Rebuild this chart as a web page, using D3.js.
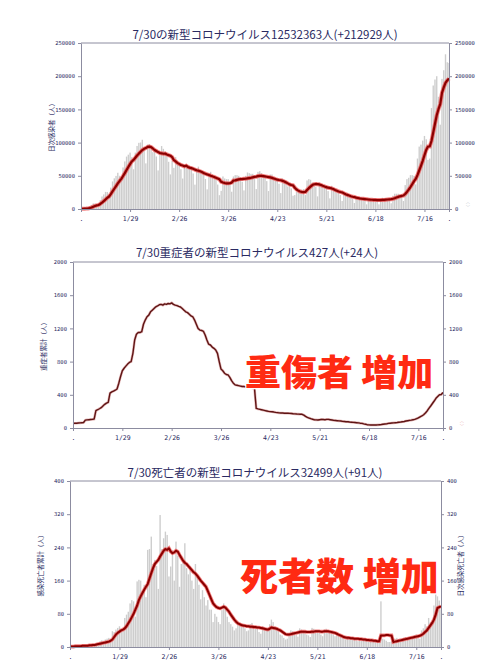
<!DOCTYPE html>
<html>
<head>
<meta charset="utf-8">
<script src="https://cdn.jsdelivr.net/npm/d3@7"></script>
<style>
  body { margin: 0; background: #fff; }
  svg { display: block; }
</style>
</head>
<body>
<script>
// x axis: days since 1/1, ticks every 4 weeks
const xTickDays = [0, 28, 56, 84, 112, 140, 168, 196, 210];
const xTickLabels = [".", "1/29", "2/26", "3/26", "4/23", "5/21", "6/18", "7/16", "."];

// daily new cases (thousands), 1/1 - 7/30
const casesDailyK = [
  0.46,0.55,0.78,1.26,2.64,4.47,6.21,8.48,8.24,6.44,6.38,13.24,18.86,21.9,25.74,25.66,20.0,32.2,41.49,46.2,49.85,54.58,50.04,43.17,62.61,71.63,78.93,81.82,84.93,78.0,59.82,
  84.94,94.93,99.65,100.2,104.3,90.2,68.7,97.0,97.7,95.2,85.6,87.5,79.1,58.1,87.0,94.8,90.6,86.6,79.4,71.1,52.1,72.6,62.0,78.2,70.7,68.7,59.9,45.9,
  64.9,67.9,65.1,63.7,63.0,53.5,36.7,58.4,63.8,58.6,55.8,53.0,45.2,29.6,53.1,56.0,52.0,49.0,44.9,36.8,20.8,27.4,49.0,46.0,45.0,45.0,40.0,26.0,49.0,51.0,51.0,
  50,48,41,28,50,55,54,53,53,46,30,56,57,54,51,50,42,27,52,52,48,45,44,38,24,46,44,40,34,34,
  31,20,21,26,28,24,29,30,21,43,45,44,40,38,33,19,40,38,36,33,32,27,16,35,31,27,25,24,21,12,25,
  22,20,18,17,15,9,19,18,16,15,15,13,7,16,16,15,14,14,12,7,16,17,16,16,16,14,8.6,20,23,23,
  23,22,19,12,36,45,47,51,51,50,37,76,94,97,103,110,105,74,76,152,186,195,200,169,127,196,209,233,221,220
];
// smoothed line (thousands)
const casesAvgK = [
  0.4,0.4,0.5,0.6,0.9,1.4,2.3,3.5,4.6,5.4,6.1,7.6,9.7,11.9,14.4,16.9,18.8,22.5,26.6,30.5,34.5,38.6,42.1,45.4,49.7,54.0,58.7,63.3,67.6,71.6,74.0,
  77.2,80.5,83.4,86.1,88.8,90.6,91.8,93.6,94.0,93.3,91.2,88.8,87.3,85.7,84.3,83.9,83.2,83.4,82.2,81.1,80.2,78.2,73.5,71.7,69.4,67.9,66.3,65.4,
  64.3,65.2,63.3,62.3,61.5,60.6,59.3,58.3,57.7,56.8,55.7,54.3,53.1,52.1,51.3,50.2,49.2,48.3,47.1,45.9,44.7,41.0,40.0,39.1,38.6,38.6,39.0,39.8,42.9,43.1,43.9,
  44.6,45.0,45.1,45.4,45.6,46.1,46.6,47.0,47.7,48.4,48.7,49.6,49.9,49.9,49.6,49.1,48.6,48.1,47.6,46.9,46.0,45.1,44.3,43.7,43.3,42.4,41.3,40.1,38.6,37.1,
  36.1,35.6,32.0,29.4,27.7,26.3,25.6,25.4,25.6,28.7,31.4,33.7,36.0,37.3,37.7,37.4,37.0,36.0,34.9,33.9,33.0,32.1,31.7,31.0,30.0,28.7,27.6,26.4,25.6,25.0,23.6,
  22.3,21.3,20.3,19.3,18.4,18.0,17.1,16.6,16.0,15.6,15.3,15.0,14.7,14.3,14.0,13.9,13.7,13.6,13.4,13.4,13.4,13.6,13.7,14.0,14.3,14.6,14.8,15.4,16.2,17.2,
  18.2,19.1,19.8,20.3,22.6,25.7,29.1,33.1,37.3,41.7,45.3,51.0,58.0,65.1,72.6,81.0,88.9,94.1,94.1,102.4,115.1,128.3,141.1,150.3,157.9,175.0,183.1,189.9,193.6,196.4
];

// severe cases
const severe = [
  56,57,58,60,62,64,66,95,98,100,102,104,108,210,220,232,245,265,285,300,310,420,435,445,455,470,540,620,690,720,745,
  770,790,800,900,1060,1130,1150,1150,1160,1250,1300,1340,1360,1400,1420,1440,1460,1470,1485,1490,1480,1495,1490,1500,1495,1507,1490,1480,
  1475,1465,1458,1440,1420,1400,1390,1370,1350,1340,1300,1250,1200,1180,1175,1165,1120,1060,1010,1000,975,960,940,900,800,710,690,660,645,640,610,
  570,540,520,515,510,505,500,500,495,490,485,490,480,478,237,230,225,220,215,210,205,200,197,195,192,188,185,182,180,180,
  178,177,177,176,175,172,170,168,167,166,165,155,140,128,120,112,105,100,98,96,100,104,102,100,104,104,100,96,92,90,88,
  86,84,80,78,76,75,72,70,68,66,64,62,58,56,50,45,40,38,37,36,36,36,38,40,42,45,48,50,56,58,
  60,62,64,66,70,72,75,78,84,88,92,95,100,104,112,122,135,145,160,180,205,237,265,295,325,358,380,400,403,427
];

// daily deaths
const deathsDaily = [
  1,1,2,2,3,3,4,4,3,2,4,5,6,8,8,10,8,14,16,15,18,20,22,19,38,36,42,46,50,44,40,
  70,78,85,105,113,110,73,158,162,160,135,150,120,234,236,266,200,210,195,140,318,236,262,278,270,170,194,234,
  160,254,220,145,200,210,250,190,175,195,160,140,200,170,150,115,137,120,100,113,90,90,60,80,73,60,55,89,105,97,73,
  60,55,49,40,45,60,55,50,52,45,38,40,55,58,52,48,44,36,32,50,46,45,40,55,66,60,50,42,38,30,
  28,22,18,20,30,40,38,35,30,25,45,42,40,36,30,28,24,46,44,40,38,34,30,26,42,44,40,38,34,30,26,
  30,28,26,24,22,18,26,24,22,20,18,16,14,22,20,18,18,16,14,12,18,16,14,12,12,110,20,18,15,12,
  12,14,18,20,22,18,16,20,22,24,20,18,26,25,28,30,24,20,40,45,55,50,70,60,55,100,130,122,112,91
];
const deathsAvg = [
  1,1,1,2,2,2,2,3,3,3,3,4,4,5,5,6,7,8,9,10,11,12,13,15,18,24,30,34,37,40,42,
  45,50,57,64,72,80,90,100,113,122,130,138,145,152,165,178,190,200,205,210,218,225,232,236,234,238,230,226,
  228,232,230,222,215,208,203,200,195,190,185,180,177,172,166,160,155,150,145,135,125,115,105,100,96,94,93,95,97,95,90,
  85,78,72,66,61,57,55,53,52,51,50,50,49,49,48,48,47,47,46,45,44,43,42,44,47,46,45,44,42,40,
  37,34,31,30,30,31,32,33,34,35,36,37,37,37,36,36,36,37,37,38,38,38,37,37,38,38,38,37,36,35,34,
  32,30,28,26,24,23,22,22,21,21,20,20,20,19,19,18,18,17,17,16,16,15,15,14,14,28,28,28,29,29,
  28,28,12,13,14,15,16,17,18,19,20,21,22,23,24,25,26,27,29,32,36,40,46,52,58,66,78,94,96,98
];

const casesTicks = [0, 50, 100, 150, 200, 250];
const severeTicks = [0, 400, 800, 1200, 1600, 2000];
const deathsTicks = [0, 80, 160, 240, 320, 400];

const JP = "'Noto Sans CJK JP', sans-serif";
const NUM = "'DejaVu Sans Mono', monospace";
const NAVY = "#2a2a62";
const FRAME = "#8c8ca0";

const svg = d3.select("body").append("svg")
    .attr("width", 500)
    .attr("height", 667);

function drawPanel(p) {
    const x = d3.scaleLinear().domain([0, 210]).range([p.left, p.right]);
    const y = d3.scaleLinear().domain([0, p.yMax]).range([p.bottom, p.top]);
    const g = svg.append("g");

    // bars
    if (p.bars) {
        const bw = (x(1) - x(0)) * 0.78;
        g.selectAll(".bar")
            .data(p.bars)
            .enter().append("rect")
            .attr("x", (d, i) => x(i) - bw / 2)
            .attr("y", d => y(d))
            .attr("width", bw)
            .attr("height", d => y(0) - y(d))
            .attr("fill", "#cdcdcd");
    }

    // line with a light halo
    const line = d3.line()
        .x((d, i) => x(i))
        .y(d => y(d));
    g.append("path")
        .datum(p.line)
        .attr("fill", "none")
        .attr("stroke", p.halo)
        .attr("stroke-opacity", 0.7)
        .attr("stroke-width", p.haloWidth)
        .attr("d", line);
    g.append("path")
        .datum(p.line)
        .attr("fill", "none")
        .attr("stroke", p.core)
        .attr("stroke-width", p.coreWidth)
        .attr("stroke-linejoin", "round")
        .attr("d", line);

    // frame top
    g.append("line")
        .attr("x1", p.left).attr("x2", p.right)
        .attr("y1", p.top).attr("y2", p.top)
        .attr("stroke", FRAME);

    const yFmt = d => p.yFmt(d);
    const axL = g.append("g")
        .attr("transform", `translate(${p.left},0)`)
        .call(d3.axisLeft(y).tickValues(p.ticks).tickFormat(yFmt).tickSize(3).tickSizeOuter(0));
    const axR = g.append("g")
        .attr("transform", `translate(${p.right},0)`)
        .call(d3.axisRight(y).tickValues(p.ticks).tickFormat(yFmt).tickSize(3).tickSizeOuter(0));
    const axB = g.append("g")
        .attr("transform", `translate(0,${p.bottom})`)
        .call(d3.axisBottom(x).tickValues(xTickDays).tickFormat((d, i) => xTickLabels[i]).tickSize(3).tickSizeOuter(0));

    [axL, axR, axB].forEach(a => {
        a.select(".domain").attr("stroke", FRAME);
        a.selectAll(".tick line").attr("stroke", FRAME);
        a.selectAll(".tick text")
            .attr("fill", NAVY)
            .style("font-family", NUM);
    });
    axL.selectAll(".tick text").style("font-size", "5.5px");
    axR.selectAll(".tick text").style("font-size", "5.5px");
    axB.selectAll(".tick text").style("font-size", "6.5px").attr("dy", "0.9em");

    // title
    svg.append("text")
        .attr("x", p.titleX)
        .attr("y", p.titleY)
        .attr("text-anchor", "middle")
        .attr("fill", NAVY)
        .style("font-family", JP)
        .style("font-size", "11.5px")
        .text(p.title);

    // y labels (rotated)
    svg.append("text")
        .attr("transform", `translate(${p.left - 29},${p.labelY}) rotate(-90)`)
        .attr("text-anchor", "middle")
        .attr("dy", "0.35em")
        .attr("fill", NAVY)
        .style("font-family", JP)
        .style("font-size", "6.5px")
        .text(p.ylabel);
    svg.append("text")
        .attr("transform", `translate(${p.right + 20},${p.rightLabel ? p.labelY : p.bottom})` + " rotate(-90)")
        .attr("text-anchor", p.rightLabel ? "middle" : "start")
        .attr("dy", "0.35em")
        .attr("fill", p.rightLabel ? NAVY : p.markColor)
        .style("font-family", JP)
        .style("font-size", p.rightLabel ? "6.5px" : "4px")
        .text(p.rightLabel || "（ ）");

    // overlay caption
    if (p.caption) {
        svg.append("text")
            .attr("x", p.capX)
            .attr("y", p.capY)
            .attr("fill", "#ff2a12")
            .attr("stroke", "#fff")
            .attr("stroke-width", 2.5)
            .attr("paint-order", "stroke")
            .style("font-family", JP)
            .style("font-weight", 900)
            .style("font-size", p.capSize + "px")
            .text(p.caption);
    }
}

drawPanel({
    left: 81, right: 449, top: 43, bottom: 209,
    yMax: 250, ticks: casesTicks, yFmt: d => String(d * 1000),
    bars: casesDailyK, line: casesAvgK,
    halo: "#ee4a4a", haloWidth: 4, core: "#8a0000", coreWidth: 2.2,
    title: "7/30の新型コロナウイルス12532363人(+212929人)", titleX: 265, titleY: 39,
    ylabel: "日次感染者（人）", labelY: 126, markColor: "#b0b0c0"
});

drawPanel({
    left: 73, right: 443, top: 262, bottom: 428,
    yMax: 2000, ticks: severeTicks, yFmt: d => String(d),
    line: severe,
    halo: "#d99a9a", haloWidth: 2.6, core: "#5e1414", coreWidth: 1.4,
    title: "7/30重症者の新型コロナウイルス427人(+24人)", titleX: 257, titleY: 257,
    ylabel: "重症者累計（人）", labelY: 345, markColor: "#e89a9a",
    caption: "重傷者 増加", capX: 245, capY: 386, capSize: 36
});

drawPanel({
    left: 70, right: 441, top: 481, bottom: 647,
    yMax: 400, ticks: deathsTicks, yFmt: d => String(d),
    bars: deathsDaily, line: deathsAvg,
    halo: "#ee4a4a", haloWidth: 3.6, core: "#8a0000", coreWidth: 2,
    title: "7/30死亡者の新型コロナウイルス32499人(+91人)", titleX: 255, titleY: 477,
    ylabel: "感染死亡者累計（人）", labelY: 564, rightLabel: "日次感染死亡者（人）",
    caption: "死者数 増加", capX: 240, capY: 590, capSize: 38
});
</script>
</body>
</html>
